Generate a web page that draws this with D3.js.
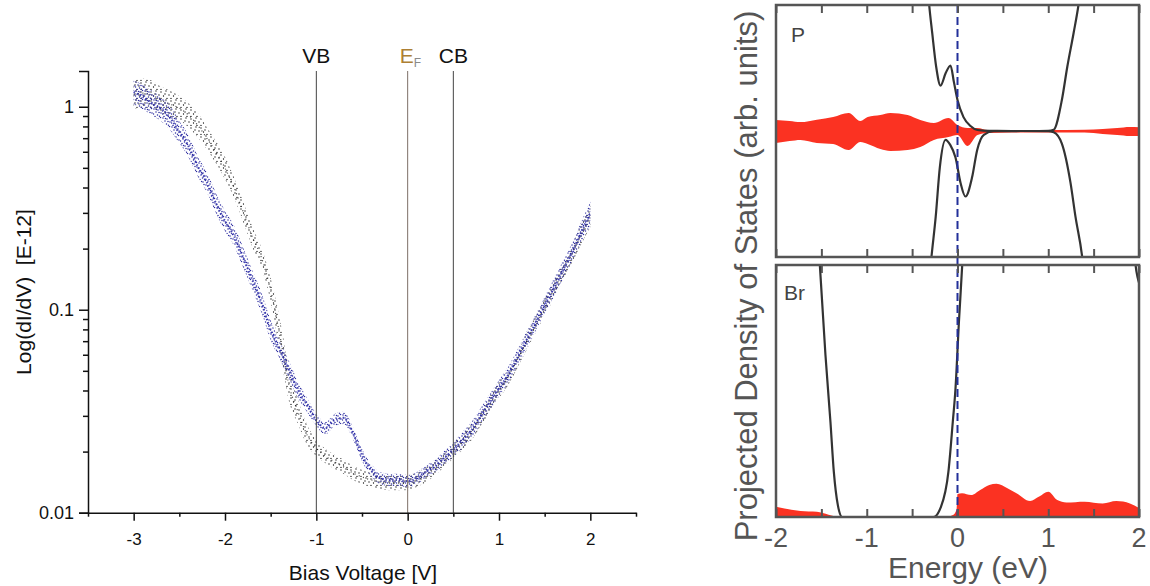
<!DOCTYPE html>
<html>
<head>
<meta charset="utf-8">
<script src="https://cdn.jsdelivr.net/npm/d3@7"></script>
<style>
  body { margin: 0; background: #fff; }
  svg { display: block; font-family: "Liberation Sans", Arial, sans-serif; }
</style>
</head>
<body>
<svg id="chart" width="1150" height="586"></svg>
<script>
// ---- left plot: STS spectra (bias voltage vs dI/dV, log scale) ----
const biasV = d3.range(51).map(i => +(-3 + i * 0.1).toFixed(1));
const blueMid = [1.181,1.116,1.043,0.974,0.880,0.750,0.640,0.510,0.426,0.335,
  0.273,0.231,0.180,0.140,0.108,0.0794,0.0633,0.0505,0.0402,0.0339,
  0.0286,0.0261,0.0286,0.0293,0.0247,0.0192,0.0162,0.0148,0.0145,0.0145,
  0.0143,0.0148,0.0159,0.0170,0.0186,0.0204,0.0228,0.0256,0.0300,0.0351,
  0.0411,0.0477,0.0578,0.0709,0.0860,0.1055,0.128,0.157,0.192,0.241,0.300];
const blackMid = [1.142,1.168,1.142,1.079,1.031,0.985,0.910,0.813,0.701,0.598,
  0.499,0.398,0.303,0.228,0.180,0.125,0.0750,0.0426,0.0313,0.0241,
  0.0208,0.0190,0.0178,0.0168,0.0157,0.0150,0.0145,0.0142,0.0140,0.0140,
  0.0140,0.0145,0.0153,0.0166,0.0182,0.0201,0.0223,0.0250,0.0293,0.0343,
  0.0402,0.0466,0.0565,0.0693,0.0841,0.1031,0.125,0.153,0.188,0.236,0.293];
// half-width of the point cloud, in decades
const blueSpread = [0.06,0.06,0.06,0.06,0.06,0.055,0.055,0.05,0.05,0.05,
  0.05,0.05,0.05,0.05,0.05,0.05,0.045,0.045,0.04,0.035,
  0.03,0.03,0.03,0.03,0.03,0.03,0.03,0.03,0.03,0.03,
  0.03,0.03,0.03,0.03,0.035,0.035,0.04,0.04,0.04,0.04,
  0.04,0.04,0.04,0.04,0.04,0.04,0.045,0.045,0.045,0.05,0.06];
const blackSpread = [0.07,0.07,0.07,0.065,0.065,0.06,0.06,0.06,0.055,0.055,
  0.055,0.05,0.05,0.05,0.05,0.06,0.08,0.08,0.06,0.05,
  0.04,0.035,0.035,0.035,0.035,0.035,0.035,0.035,0.035,0.035,
  0.035,0.035,0.035,0.035,0.035,0.035,0.04,0.04,0.04,0.04,
  0.04,0.04,0.04,0.04,0.04,0.04,0.045,0.045,0.045,0.05,0.06];
const xTicksLeft = [-3, -2, -1, 0, 1, 2];
const yTicksLeft = [0.01, 0.1, 1];
const bandLines = [{v: -1, label: "VB"}, {v: 0, label: "EF"}, {v: 0.5, label: "CB"}];

// ---- right plot: projected DOS ----
const xTicksRight = [-2, -1, 0, 1, 2];
// P panel, black curve (spin up / spin down)
const pUpE  = [-0.45,-0.34,-0.312,-0.279,-0.235,-0.187,-0.13,-0.077,-0.04,0,0.066,0.143,0.22,0.35,0.6,0.9,1.0,1.06,1.15,1.21,1.28,1.333,1.4,1.5];
const pUpV  = [2.0,1.25,1.0,0.78,0.51,0.36,0.46,0.52,0.39,0.246,0.11,0.04,0.008,0.001,0,0,0.001,0.01,0.246,0.51,0.78,1.0,1.4,2.0];
const pDnE  = [-0.4,-0.287,-0.24,-0.195,-0.132,-0.08,-0.022,0.033,0.088,0.16,0.217,0.29,0.4,0.7,1.0,1.06,1.15,1.245,1.3,1.374,1.45];
const pDnV  = [-2.0,-1.0,-0.68,-0.29,-0.07,-0.11,-0.21,-0.41,-0.52,-0.37,-0.15,-0.03,-0.002,0,-0.001,-0.01,-0.1,-0.41,-0.68,-1.0,-1.6];
// P panel, red fill (upper and lower edges)
const pRedE  = [-2,-1.85,-1.73,-1.55,-1.37,-1.2,-1.07,-0.99,-0.85,-0.74,-0.55,-0.41,-0.26,-0.1,0,0.11,0.22,0.33,0.6,1.0,1.4,1.6,1.76,1.9,2];
const pRedUp = [0.087,0.08,0.071,0.09,0.111,0.143,0.079,0.111,0.127,0.143,0.127,0.087,0.063,0.103,0.048,0.024,0.024,0.008,0.008,0.008,0.01,0.016,0.024,0.032,0.03];
const pRedDn = [-0.095,-0.08,-0.071,-0.095,-0.103,-0.151,-0.087,-0.103,-0.143,-0.159,-0.151,-0.127,-0.071,-0.048,-0.032,-0.119,-0.032,-0.016,-0.012,-0.012,-0.012,-0.024,-0.032,-0.04,-0.04];
// Br panel, black curve
const brE = [-1.6,-1.517,-1.455,-1.40,-1.363,-1.319,-1.27,-0.8,-0.264,-0.187,-0.1,-0.052,-0.022,0.015,0.052,0.12];
const brV = [1.6,1.0,0.643,0.377,0.18,0.048,0,0,0,0.036,0.18,0.377,0.51,0.77,1.0,1.6];
const brE2 = [1.9,1.95,1.985,2.0];
const brV2 = [1.6,1.05,0.95,0.93];
// Br panel, red fill
const brRedE = [-2,-1.73,-1.55,-1.29,-0.15,-0.05,-0.01,0,0.05,0.15,0.25,0.35,0.43,0.55,0.65,0.8,0.9,1.0,1.1,1.2,1.4,1.6,1.75,1.9,2];
const brRedV = [0.041,0.024,0.021,0,0,0.008,0.03,0.091,0.094,0.087,0.107,0.127,0.132,0.114,0.094,0.063,0.081,0.1,0.067,0.058,0.061,0.054,0.063,0.054,0.036];

const svg = d3.select("#chart");
const defs = svg.append("defs");

// dot textures for the scatter clouds
function dotPattern(id, w, h, pts, color, r) {
  const p = defs.append("pattern").attr("id", id).attr("patternUnits", "userSpaceOnUse")
    .attr("width", w).attr("height", h);
  pts.forEach(d => p.append("circle").attr("cx", d[0]).attr("cy", d[1]).attr("r", r).attr("fill", color));
}
dotPattern("bluedots", 9, 9, [[1,1],[5,2],[7.5,0.5],[3,4],[8,5],[0.5,6],[4.5,7],[6.5,8.2],[2,8.5],[6,4.5],[3.5,1.5]], "#2c2ca0", 0.75);
dotPattern("blackdots", 10, 9, [[1,2],[6,1],[9,5],[3.5,6],[7,8.5],[1,8.5],[5,4]], "#111", 0.65);

// ---------- LEFT ----------
const xL = d3.scaleLinear().domain([-3.5, 2.5]).range([88, 636]);
const yL = d3.scaleLog().domain([0.01, 1.5]).range([512.7, 71]);

const left = svg.append("g");

function band(mid, spread) {
  return d3.area()
    .x((d, i) => xL(biasV[i]))
    .y0((d, i) => yL(mid[i] / Math.pow(10, spread[i])))
    .y1((d, i) => yL(mid[i] * Math.pow(10, spread[i])))
    .curve(d3.curveMonotoneX)(mid);
}
left.append("path").attr("d", band(blackMid, blackSpread)).attr("fill", "url(#blackdots)");
left.append("path")
  .attr("d", d3.line().x((d, i) => xL(biasV[i])).y(d => yL(d)).curve(d3.curveMonotoneX)(blackMid))
  .attr("fill", "none").attr("stroke", "#111").attr("stroke-width", 1.2)
  .attr("stroke-dasharray", "1,3.5").attr("opacity", 0.8);
left.append("path").attr("d", band(blueMid, blueSpread)).attr("fill", "url(#bluedots)");
left.append("path")
  .attr("d", d3.line().x((d, i) => xL(biasV[i])).y(d => yL(d)).curve(d3.curveMonotoneX)(blueMid))
  .attr("fill", "none").attr("stroke", "#2a2aa8").attr("stroke-width", 2.2)
  .attr("stroke-dasharray", "1.4,2").attr("opacity", 0.85);

// band edge lines
left.selectAll(".vline").data(bandLines).join("line")
  .attr("x1", d => xL(d.v)).attr("x2", d => xL(d.v))
  .attr("y1", 71).attr("y2", 512.7)
  .attr("stroke", d => d.label === "EF" ? "#7d7068" : "#444").attr("stroke-width", 1);

left.append("text").attr("x", xL(-1)).attr("y", 63).attr("text-anchor", "middle")
  .attr("font-size", 21).attr("fill", "#111").text("VB");
left.append("text").attr("x", xL(0.5)).attr("y", 63).attr("text-anchor", "middle")
  .attr("font-size", 21).attr("fill", "#111").text("CB");
const ef = left.append("text").attr("x", xL(0) - 8).attr("y", 63).attr("font-size", 21);
ef.append("tspan").attr("fill", "#ad7f34").text("E");
ef.append("tspan").attr("fill", "#8a8a8a").attr("font-size", 12).attr("dy", 4).text("F");

// axes
const minorY = [];
[0.01, 0.1, 1].forEach(dec => d3.range(2, 10).forEach(k => { if (dec * k <= 1.5) minorY.push(dec * k); }));
left.append("g").attr("transform", "translate(88,0)")
  .call(d3.axisLeft(yL).tickValues(minorY).tickSize(5).tickFormat(""))
  .call(g => g.select(".domain").remove());
left.append("g").attr("transform", "translate(88,0)")
  .call(d3.axisLeft(yL).tickValues(yTicksLeft).tickSize(9).tickPadding(5).tickFormat(d3.format("")))
  .call(g => g.selectAll("text").style("font-size", "18px").attr("fill", "#111").style("font-family", "Liberation Sans, Arial"));
left.append("g").attr("transform", "translate(0,512.7)")
  .call(d3.axisBottom(xL).tickValues([-3.5, -2.5, -1.5, -0.5, 0.5, 1.5, 2.5]).tickSize(4).tickFormat(""))
  .call(g => g.select(".domain").remove());
left.append("g").attr("transform", "translate(0,512.7)")
  .call(d3.axisBottom(xL).tickValues(xTicksLeft).tickSize(8).tickPadding(12).tickSizeOuter(0).tickFormat(d3.format("d")))
  .call(g => g.selectAll("text").style("font-size", "17px").attr("fill", "#111").style("font-family", "Liberation Sans, Arial"));
left.selectAll(".domain, .tick line").attr("stroke", "#111").attr("stroke-width", 1.5);
left.selectAll(".tick text").text(function() { return this.textContent.replace("−", "-"); });

left.append("text").attr("x", 363).attr("y", 580).attr("text-anchor", "middle")
  .style("font-size", "21px").attr("fill", "#111").text("Bias Voltage [V]");
left.append("text").attr("transform", "translate(31,292) rotate(-90)").attr("text-anchor", "middle")
  .style("font-size", "21px").attr("fill", "#111").attr("xml:space", "preserve").text("Log(dI/dV)  [E-12]");

// ---------- RIGHT ----------
const xR = d3.scaleLinear().domain([-2, 2]).range([776, 1139]);
const yP = d3.scaleLinear().domain([-1, 1]).range([257, 5]);
const yB = d3.scaleLinear().domain([0, 1]).range([517, 265]);
const right = svg.append("g");
const frameColor = "#555";

function panel(id, y0, y1) {
  defs.append("clipPath").attr("id", id).append("rect")
    .attr("x", 776).attr("y", y0).attr("width", 363).attr("height", y1 - y0);
  return right.append("g").attr("clip-path", `url(#${id})`);
}
const gP = panel("clipP", 5, 257);
const gB = panel("clipB", 265, 517);

// P panel
gP.append("path")
  .attr("d", d3.area().x((d, i) => xR(pRedE[i])).y0((d, i) => yP(pRedDn[i])).y1(d => yP(d))
    .curve(d3.curveMonotoneX)(pRedUp))
  .attr("fill", "#fb3222");
gP.append("path")
  .attr("d", d3.line().x((d, i) => xR(pUpE[i])).y(d => yP(d)).curve(d3.curveMonotoneX)(pUpV))
  .attr("fill", "none").attr("stroke", "#333").attr("stroke-width", 2.2);
gP.append("path")
  .attr("d", d3.line().x((d, i) => xR(pDnE[i])).y(d => yP(d)).curve(d3.curveMonotoneX)(pDnV))
  .attr("fill", "none").attr("stroke", "#333").attr("stroke-width", 2.2);

// Br panel
gB.append("path")
  .attr("d", d3.area().x((d, i) => xR(brRedE[i])).y0(yB(0)).y1(d => yB(d)).curve(d3.curveMonotoneX)(brRedV))
  .attr("fill", "#fb3222");
[[brE, brV], [brE2, brV2]].forEach(([e, v]) => {
  gB.append("path")
    .attr("d", d3.line().x((d, i) => xR(e[i])).y(d => yB(d)).curve(d3.curveMonotoneX)(v))
    .attr("fill", "none").attr("stroke", "#333").attr("stroke-width", 2.2);
});

// Fermi level
right.append("line").attr("x1", xR(0)).attr("x2", xR(0)).attr("y1", 5).attr("y2", 517)
  .attr("stroke", "#23309a").attr("stroke-width", 2).attr("stroke-dasharray", "8,4");

// frames and inward ticks
const tickE = d3.range(-2, 2.01, 0.5);
[[5, 257], [265, 517]].forEach(([y0, y1]) => {
  right.append("rect").attr("x", 776).attr("y", y0).attr("width", 363).attr("height", y1 - y0)
    .attr("fill", "none").attr("stroke", frameColor).attr("stroke-width", 2.5);
  right.append("g").attr("transform", `translate(0,${y0})`)
    .call(d3.axisTop(xR).tickValues(tickE).tickSize(-8).tickFormat(""))
    .call(g => g.select(".domain").remove());
  right.append("g").attr("transform", `translate(0,${y1})`)
    .call(d3.axisBottom(xR).tickValues(tickE).tickSize(-8).tickFormat(""))
    .call(g => g.select(".domain").remove());
});
right.selectAll(".tick line").attr("stroke", frameColor).attr("stroke-width", 2);

right.selectAll(".xlab").data(xTicksRight).join("text")
  .attr("x", d => xR(d)).attr("y", 547).attr("text-anchor", "middle")
  .attr("font-size", 27).attr("fill", "#555").text(d => d < 0 ? "-" + Math.abs(d) : d);
right.append("text").attr("x", 968).attr("y", 578).attr("text-anchor", "middle")
  .attr("font-size", 30).attr("fill", "#555").text("Energy (eV)");
right.append("text").attr("transform", "translate(757,276) rotate(-90)").attr("text-anchor", "middle")
  .attr("font-size", 31).attr("fill", "#555").text("Projected Density of States (arb. units)");
right.append("text").attr("x", 791).attr("y", 42).attr("font-size", 21).attr("fill", "#444").text("P");
right.append("text").attr("x", 784).attr("y", 300).attr("font-size", 21).attr("fill", "#444").text("Br");
</script>
</body>
</html>
